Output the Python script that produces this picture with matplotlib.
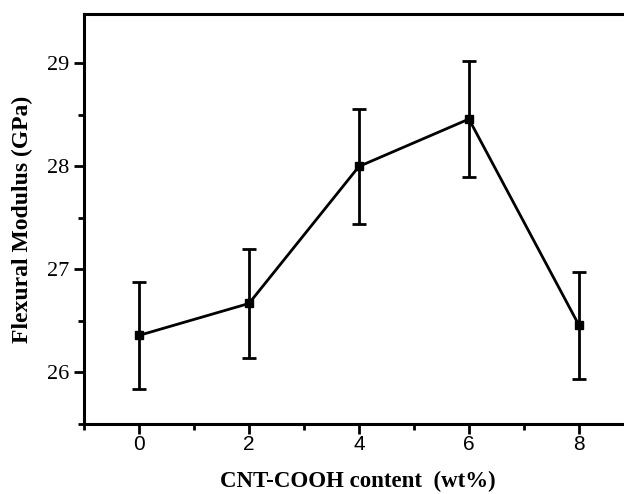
import matplotlib
matplotlib.use("Agg")
import matplotlib.pyplot as plt
from matplotlib.ticker import MultipleLocator
import numpy as np

# values
content = [0, 2, 4, 6, 8]
modulus = [26.36, 26.67, 28.00, 28.46, 26.46]
err = [0.52, 0.53, 0.56, 0.56, 0.52]

fig = plt.figure(figsize=(6.24, 4.94), dpi=100)
ax = fig.add_axes([0.1346, 0.1417, 0.8654, 0.83])

ax.errorbar(content, modulus, yerr=err, color='black', lw=2.0, marker='s',
            ms=6, capsize=5, capthick=2.0, elinewidth=2.0)

ax.set_xlim(-1.0, 8.82)
ax.set_ylim(25.5, 29.48)
ax.xaxis.set_major_locator(MultipleLocator(2))
ax.xaxis.set_minor_locator(MultipleLocator(1))
ax.yaxis.set_major_locator(MultipleLocator(1))
ax.yaxis.set_minor_locator(MultipleLocator(0.5))

for s in ['left', 'bottom', 'top']:
    ax.spines[s].set_linewidth(2.2)
ax.spines['right'].set_visible(False)

ax.tick_params(which='major', direction='out', length=7, width=2)
ax.tick_params(which='minor', direction='out', length=4, width=2)
ax.tick_params(axis='x', which='major', pad=1)
ax.tick_params(top=False, right=False)

for lab in ax.get_xticklabels():
    lab.set_fontfamily('Liberation Sans')
    lab.set_fontsize(15)
for lab in ax.get_yticklabels():
    lab.set_fontfamily('Liberation Serif')
    lab.set_fontsize(16)

ax.set_xlabel('CNT-COOH content  (wt%)', fontfamily='Liberation Serif',
              fontweight='bold', fontsize=16.5, labelpad=12)
ax.xaxis.label.set_x(0.507)
ax.set_ylabel('Flexural Modulus (GPa)', fontfamily='Liberation Serif',
              fontweight='bold', fontsize=17, labelpad=10)

fig.savefig('out.png', dpi=100)
